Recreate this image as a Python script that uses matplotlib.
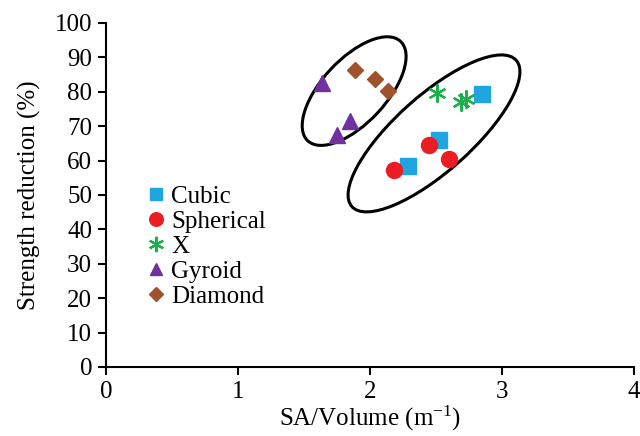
import matplotlib.pyplot as plt
from matplotlib.patches import Ellipse
from matplotlib.transforms import ScaledTranslation

plt.rcParams['font.family'] = ['Liberation Serif', 'DejaVu Serif']
plt.rcParams['mathtext.fontset'] = 'custom'
plt.rcParams['mathtext.rm'] = 'Liberation Serif'

# SA/Volume (m^-1) and strength reduction (%) per lattice type
cubic_x = [2.29, 2.52, 2.85]
cubic_y = [58.4, 66.0, 79.4]
spherical_x = [2.18, 2.45, 2.60]
spherical_y = [57.3, 64.5, 60.5]
x_x = [2.51, 2.69, 2.73]
x_y = [79.7, 77.0, 77.8]
gyroid_x = [1.64, 1.75, 1.85]
gyroid_y = [82.6, 67.5, 71.5]
diamond_x = [1.89, 2.04, 2.14]
diamond_y = [86.3, 83.7, 80.2]

fig = plt.figure(figsize=(6.4, 4.36), dpi=100)
ax = fig.add_axes([0.1656, 0.1583, 0.825, 0.789])

ax.plot(cubic_x, cubic_y, 's', color='#1FA6E0', markersize=11, label='Cubic', zorder=3)
ax.plot(spherical_x, spherical_y, 'o', color='#EC1C24', markersize=11.5, label='Spherical', zorder=3)
ax.plot(x_x, x_y, marker=(6, 2, 0), linestyle='none', color='#1DAF4E', markersize=13,
        markeredgewidth=1.6, label='X', zorder=3)
ax.plot(gyroid_x, gyroid_y, '^', color='#7030A0', markersize=11, label='Gyroid', zorder=3)
ax.plot(diamond_x, diamond_y, 'D', color='#A0522D', markersize=8, label='Diamond', zorder=3)

# group outlines, sized in inches around a data-space centre
for cx, cy, w, h, ang in [(1.88, 80.2, 1.36, 0.64, 47), (2.485, 67.9, 2.2, 0.76, 41.7)]:
    tr = fig.dpi_scale_trans + ScaledTranslation(cx, cy, ax.transData)
    ax.add_patch(Ellipse((0, 0), w, h, angle=ang, transform=tr, fill=False,
                         edgecolor='black', linewidth=2.2, zorder=2))

ax.set_xlim(0, 4)
ax.set_ylim(0, 100)
ax.set_xticks(range(0, 5))
ax.set_yticks(range(0, 101, 10))
ax.spines['top'].set_visible(False)
ax.spines['right'].set_visible(False)
ax.spines['left'].set_linewidth(1.5)
ax.spines['bottom'].set_linewidth(1.5)
ax.tick_params(direction='out', length=6, width=1.5, labelsize=18, pad=4)
ax.set_xlabel('SA/Volume (m$\\mathregular{^{-1}}$)', fontsize=18, labelpad=1)
ax.set_ylabel('Strength reduction (%)', fontsize=18, labelpad=10)

ax.legend(loc='upper left', bbox_to_anchor=(0.055, 0.565), frameon=False, fontsize=18,
          markerscale=0.85, handlelength=0.7, handletextpad=0.25, labelspacing=0.1,
          borderpad=0)

fig.savefig('out.png', dpi=100)
